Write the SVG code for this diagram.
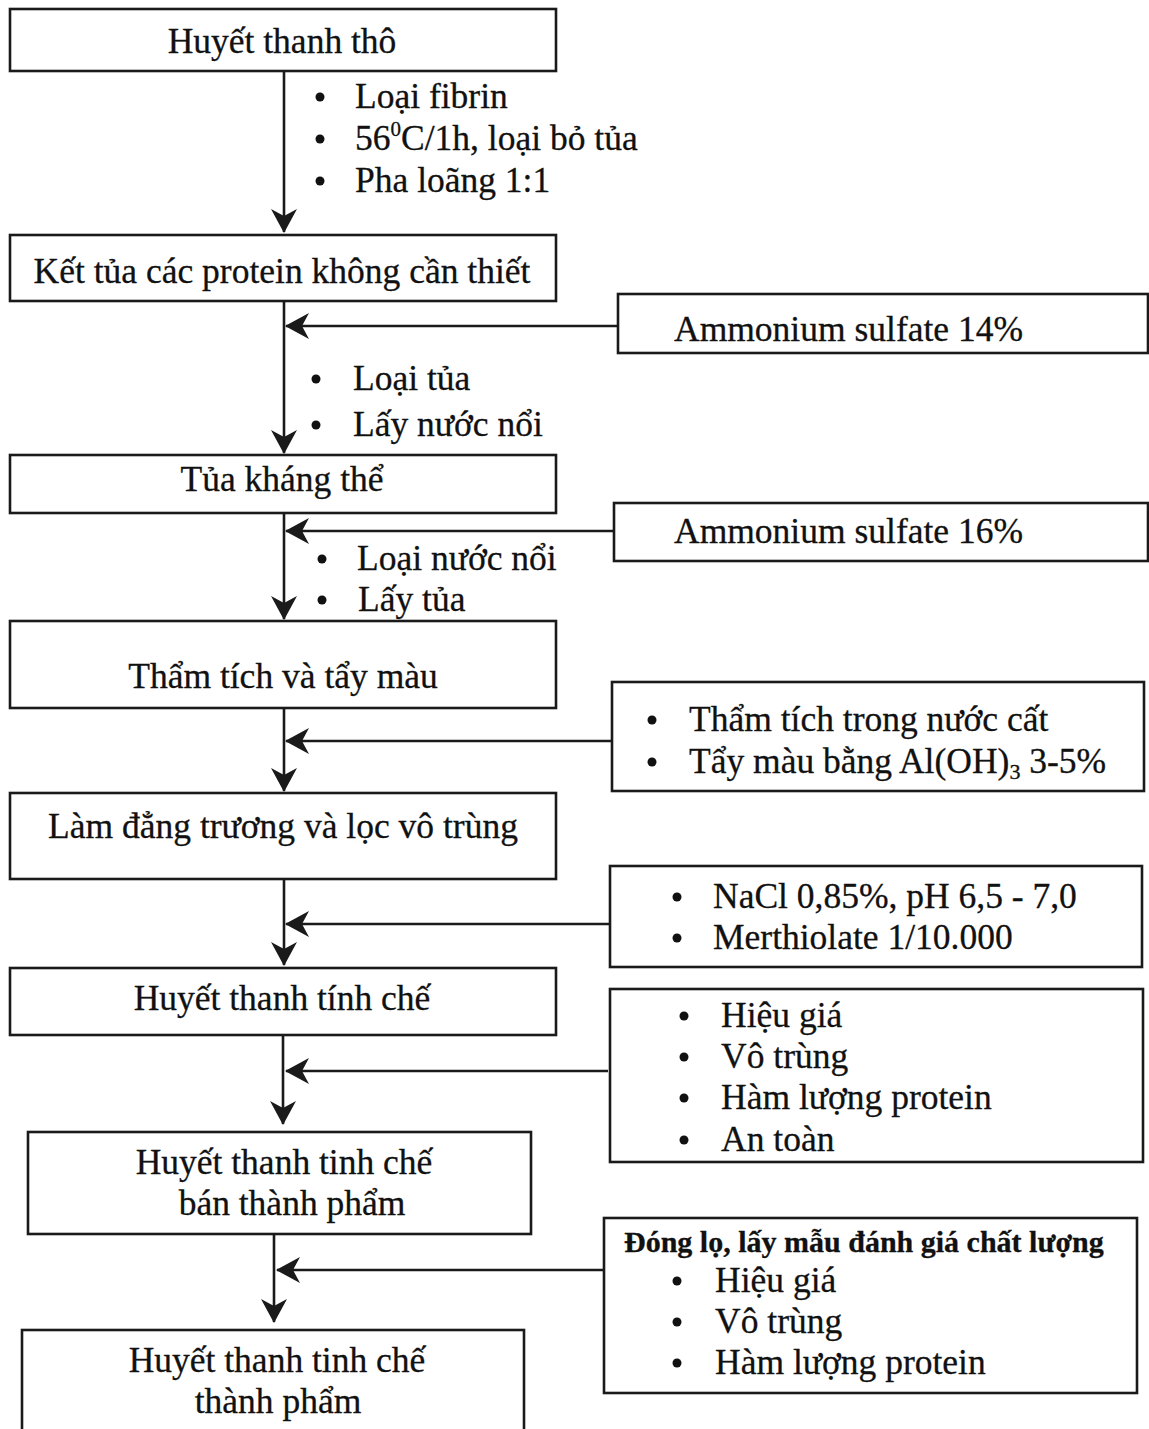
<svg xmlns="http://www.w3.org/2000/svg" width="1149" height="1429" viewBox="0 0 1149 1429">
<style>
  .box { fill: #fff; stroke: #1a1a1a; stroke-width: 2.6; }
  .t { font-family: "Liberation Serif", "Times New Roman", serif; font-size: 35.5px; fill: #111; stroke: #111; stroke-width: 0.3; }
  .c { text-anchor: middle; }
  .b { font-weight: bold; font-size: 30px; }
  .ln { stroke: #1a1a1a; stroke-width: 2.6; fill: none; }
  .dot { fill: #111; }
</style>
<defs>
  <marker id="ah" viewBox="0 0 24 26" refX="23" refY="13" markerWidth="24" markerHeight="26" markerUnits="userSpaceOnUse" orient="auto">
    <path d="M0,0 L24,13 L0,26 L7,13 Z" fill="#1a1a1a"/>
  </marker>
</defs>
<rect width="1149" height="1429" fill="#fff"/>

<g id="connectors">
  <line class="ln" x1="284" y1="71" x2="284" y2="232" marker-end="url(#ah)"/>
  <line class="ln" x1="284" y1="301" x2="284" y2="453" marker-end="url(#ah)"/>
  <line class="ln" x1="618" y1="326" x2="286" y2="326" marker-end="url(#ah)"/>
  <line class="ln" x1="284" y1="513" x2="284" y2="619" marker-end="url(#ah)"/>
  <line class="ln" x1="614" y1="531" x2="286" y2="531" marker-end="url(#ah)"/>
  <line class="ln" x1="284" y1="708" x2="284" y2="791" marker-end="url(#ah)"/>
  <line class="ln" x1="611" y1="741" x2="286" y2="741" marker-end="url(#ah)"/>
  <line class="ln" x1="284" y1="879" x2="284" y2="965" marker-end="url(#ah)"/>
  <line class="ln" x1="610" y1="924" x2="286" y2="924" marker-end="url(#ah)"/>
  <line class="ln" x1="283" y1="1035" x2="283" y2="1124" marker-end="url(#ah)"/>
  <line class="ln" x1="608" y1="1071" x2="286" y2="1071" marker-end="url(#ah)"/>
  <line class="ln" x1="274" y1="1234" x2="274" y2="1322" marker-end="url(#ah)"/>
  <line class="ln" x1="603" y1="1270" x2="277" y2="1270" marker-end="url(#ah)"/>
</g>

<g id="n1">
  <rect class="box" x="10" y="9" width="546" height="62"/>
  <text class="t c" x="282" y="53">Huyết thanh thô</text>
</g>
<g id="n1-notes">
  <circle class="dot" cx="320" cy="97" r="4.5"/>
  <text class="t" x="355" y="108">Loại fibrin</text>
  <circle class="dot" cx="320" cy="139" r="4.5"/>
  <text class="t" x="355" y="150">56<tspan font-size="21" dy="-14">0</tspan><tspan dy="14">C/1h, loại bỏ tủa</tspan></text>
  <circle class="dot" cx="320" cy="181" r="4.5"/>
  <text class="t" x="355" y="192">Pha loãng 1:1</text>
</g>

<g id="n2">
  <rect class="box" x="10" y="235" width="546" height="66"/>
  <text class="t c" x="282" y="283">Kết tủa các protein không cần thiết</text>
</g>
<g id="n2-notes">
  <circle class="dot" cx="316" cy="379" r="4.5"/>
  <text class="t" x="353" y="390">Loại tủa</text>
  <circle class="dot" cx="316" cy="425" r="4.5"/>
  <text class="t" x="353" y="436">Lấy nước nổi</text>
</g>

<g id="n-as14">
  <rect class="box" x="618" y="294" width="530" height="59"/>
  <text class="t" x="674" y="341">Ammonium sulfate 14%</text>
</g>

<g id="n3">
  <rect class="box" x="10" y="455" width="546" height="58"/>
  <text class="t c" x="282" y="491">Tủa kháng thể</text>
</g>
<g id="n3-notes">
  <circle class="dot" cx="322" cy="559" r="4.5"/>
  <text class="t" x="357" y="570">Loại nước nổi</text>
  <circle class="dot" cx="322" cy="600" r="4.5"/>
  <text class="t" x="358" y="611">Lấy tủa</text>
</g>

<g id="n-as16">
  <rect class="box" x="614" y="503" width="534" height="58"/>
  <text class="t" x="674" y="543">Ammonium sulfate 16%</text>
</g>

<g id="n4">
  <rect class="box" x="10" y="621" width="546" height="87"/>
  <text class="t c" x="283" y="688">Thẩm tích và tẩy màu</text>
</g>

<g id="n-dialysis">
  <rect class="box" x="612" y="682" width="532" height="109"/>
  <circle class="dot" cx="652" cy="720" r="4.5"/>
  <text class="t" x="689" y="731">Thẩm tích trong nước cất</text>
  <circle class="dot" cx="652" cy="762" r="4.5"/>
  <text class="t" x="689" y="773">Tẩy màu bằng Al(OH)<tspan font-size="22" dy="6">3</tspan><tspan dy="-6"> 3-5%</tspan></text>
</g>

<g id="n5">
  <rect class="box" x="10" y="793" width="546" height="86"/>
  <text class="t c" x="283" y="838">Làm đẳng trương và lọc vô trùng</text>
</g>

<g id="n-nacl">
  <rect class="box" x="610" y="866" width="532" height="101"/>
  <circle class="dot" cx="677" cy="897" r="4.5"/>
  <text class="t" x="713" y="908">NaCl 0,85%, pH 6,5 - 7,0</text>
  <circle class="dot" cx="677" cy="938" r="4.5"/>
  <text class="t" x="713" y="949">Merthiolate 1/10.000</text>
</g>

<g id="n6">
  <rect class="box" x="10" y="968" width="546" height="67"/>
  <text class="t c" x="282" y="1010">Huyết thanh tính chế</text>
</g>

<g id="n-qc1">
  <rect class="box" x="610" y="989" width="533" height="173"/>
  <circle class="dot" cx="684" cy="1016" r="4.5"/>
  <text class="t" x="721" y="1027">Hiệu giá</text>
  <circle class="dot" cx="684" cy="1057" r="4.5"/>
  <text class="t" x="721" y="1068">Vô trùng</text>
  <circle class="dot" cx="684" cy="1098" r="4.5"/>
  <text class="t" x="721" y="1109">Hàm lượng protein</text>
  <circle class="dot" cx="684" cy="1140" r="4.5"/>
  <text class="t" x="721" y="1151">An toàn</text>
</g>

<g id="n7">
  <rect class="box" x="28" y="1132" width="503" height="102"/>
  <text class="t c" x="284" y="1174">Huyết thanh tinh chế</text>
  <text class="t c" x="292" y="1215">bán thành phẩm</text>
</g>

<g id="n-qc2">
  <rect class="box" x="604" y="1218" width="533" height="175"/>
  <text class="t b" x="624" y="1252">Đóng lọ, lấy mẫu đánh giá chất lượng</text>
  <circle class="dot" cx="677" cy="1281" r="4.5"/>
  <text class="t" x="715" y="1292">Hiệu giá</text>
  <circle class="dot" cx="677" cy="1322" r="4.5"/>
  <text class="t" x="715" y="1333">Vô trùng</text>
  <circle class="dot" cx="677" cy="1363" r="4.5"/>
  <text class="t" x="715" y="1374">Hàm lượng protein</text>
</g>

<g id="n8">
  <rect class="box" x="22" y="1330" width="502" height="120"/>
  <text class="t c" x="277" y="1372">Huyết thanh tinh chế</text>
  <text class="t c" x="278" y="1413">thành phẩm</text>
</g>
</svg>
